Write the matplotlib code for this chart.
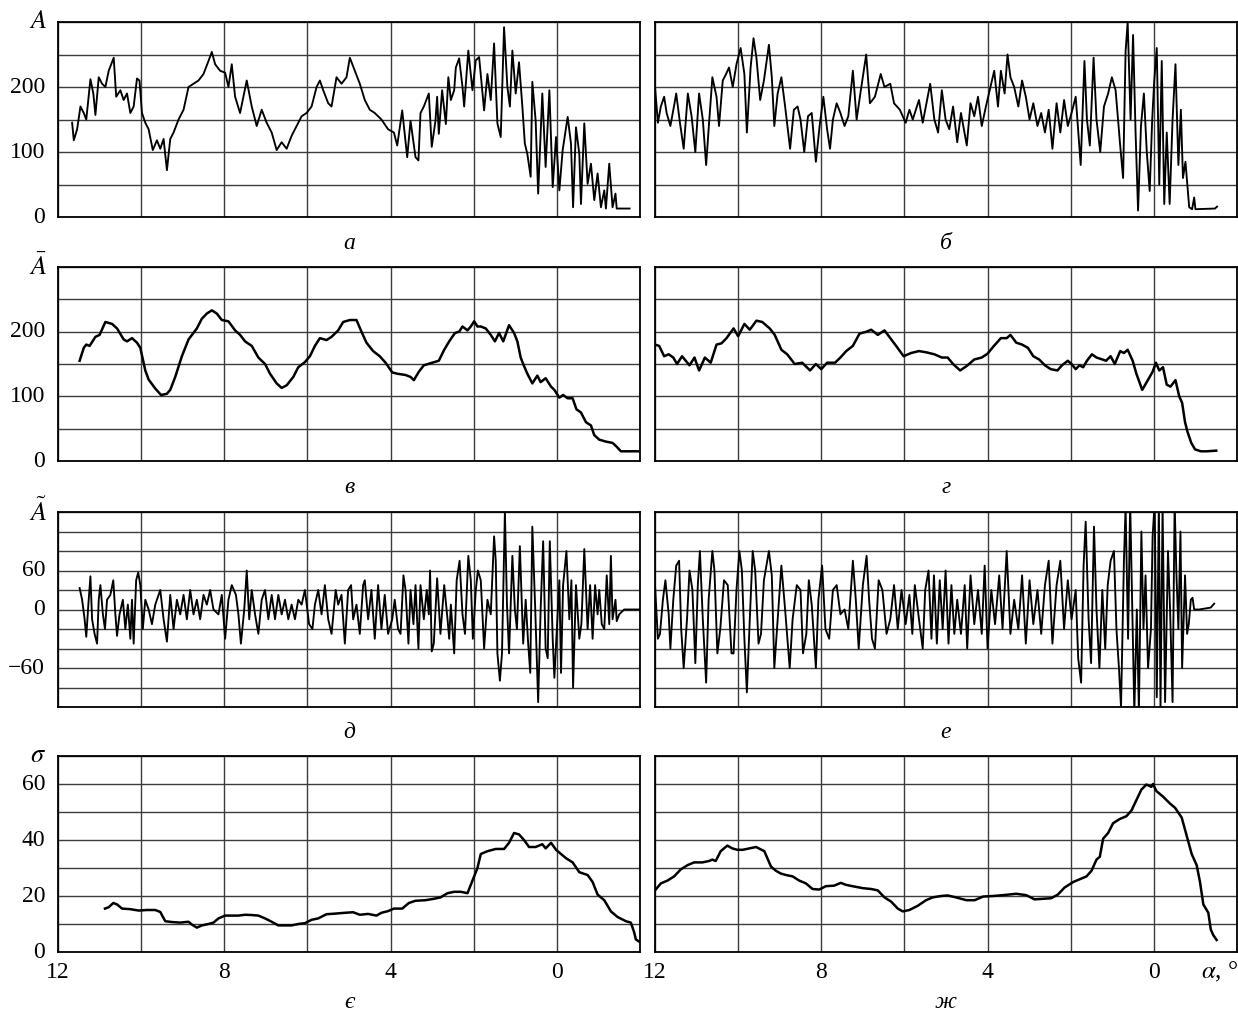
import matplotlib
matplotlib.use('Agg')
import matplotlib.pyplot as plt
import numpy as np

plt.rcParams['font.family'] = ['Liberation Serif', 'DejaVu Serif']
plt.rcParams['mathtext.fontset'] = 'stix'

# ---------------- data (x in degrees) ----------------
# panel a : A (raw signal, left)
a_x = [11.66,11.62,11.54,11.46,11.38,11.32,11.22,11.15,11.1,11.02,10.94,10.86,10.78,10.66,10.6,10.5,10.42,10.34,10.26,10.18,
       10.1,10.04,9.98,9.9,9.82,9.72,9.62,9.54,9.46,9.38,9.3,9.22,9.1,8.98,8.86,8.74,8.62,8.5,8.38,8.3,
       8.22,8.1,7.98,7.9,7.82,7.74,7.62,7.46,7.34,7.22,7.1,6.98,6.86,6.74,6.62,6.5,6.38,6.26,6.14,6.02,
       5.9,5.78,5.7,5.62,5.5,5.42,5.3,5.18,5.06,4.98,4.86,4.74,4.62,4.5,4.38,4.22,4.06,3.92,3.84,3.72,
       3.6,3.52,3.4,3.33,3.28,3.2,3.08,3.01,2.92,2.88,2.84,2.76,2.67,2.61,2.55,2.47,2.43,2.35,2.27,2.23,
       2.13,2.03,1.95,1.87,1.75,1.67,1.59,1.51,1.43,1.35,1.27,1.19,1.13,1.07,0.99,0.91,0.83,0.77,0.71,0.63,
       0.59,0.51,0.45,0.35,0.27,0.18,0.1,0.02,-0.06,-0.14,-0.26,-0.34,-0.39,-0.46,-0.54,-0.58,-0.66,-0.74,-0.82,-0.9,
       -0.98,-1.06,-1.14,-1.18,-1.26,-1.34,-1.41,-1.44,-1.75]
a_y = [145,118,135,170,160,150,212,190,157,215,205,200,225,245,185,195,180,190,160,170,
       213,210,160,145,135,103,118,105,120,72,120,130,150,165,200,205,210,220,240,254,
       235,225,222,200,235,185,160,210,170,140,165,145,130,103,115,105,125,140,155,160,
       170,200,210,195,175,170,215,205,215,245,225,205,180,165,160,150,135,130,110,164,
       92,148,92,87,160,170,190,108,148,185,128,195,143,215,180,195,230,244,200,170,
       256,195,241,246,164,220,180,267,144,123,292,200,170,256,190,238,170,113,97,62,
       208,148,36,190,77,195,46,123,41,103,154,113,15,138,97,20,144,51,82,26,
       67,15,41,13,82,15,36,13,13]

# panel b : A (raw signal, right)
b_x = [12.0,11.93,11.86,11.78,11.72,11.63,11.53,11.49,11.4,11.31,11.21,11.12,11.03,10.94,10.85,10.77,10.71,10.62,10.52,10.46,
       10.37,10.29,10.22,10.13,10.04,9.94,9.85,9.79,9.7,9.63,9.56,9.47,9.38,9.26,9.19,9.13,9.05,8.96,8.87,8.75,
       8.66,8.57,8.5,8.41,8.32,8.23,8.13,8.04,7.95,7.86,7.79,7.72,7.63,7.54,7.44,7.35,7.24,7.15,7.06,6.92,
       6.83,6.71,6.57,6.48,6.34,6.25,6.11,5.97,5.88,5.8,5.65,5.56,5.47,5.38,5.28,5.19,5.1,5.01,4.92,4.83,
       4.73,4.64,4.5,4.41,4.32,4.23,4.14,4.04,3.95,3.84,3.75,3.68,3.59,3.52,3.45,3.36,3.26,3.17,3.08,2.99,
       2.9,2.8,2.71,2.62,2.53,2.44,2.34,2.25,2.16,2.07,1.98,1.88,1.76,1.67,1.61,1.54,1.45,1.38,1.29,1.2,
       1.1,1.01,0.92,0.81,0.74,0.68,0.63,0.56,0.5,0.44,0.38,0.31,0.24,0.17,0.1,0.04,-0.01,-0.07,-0.13,-0.19,
       -0.25,-0.31,-0.38,-0.45,-0.52,-0.59,-0.65,-0.7,-0.76,-0.81,-0.85,-0.92,-0.97,-1.0,-1.47,-1.52]
b_y = [200,145,170,185,160,140,175,190,145,105,190,155,100,190,150,80,135,215,185,140,
       210,220,230,200,235,260,220,130,230,275,245,180,210,265,215,140,190,215,170,105,
       165,170,150,100,155,160,85,140,185,135,105,150,175,160,140,155,225,150,190,250,
       175,185,220,200,205,175,165,145,165,150,180,145,175,205,150,130,195,150,135,170,
       115,160,110,175,155,185,140,170,195,225,170,225,190,250,215,200,170,210,185,150,
       175,140,160,130,165,105,175,130,180,140,160,185,80,240,150,110,245,150,100,170,
       190,215,195,110,60,255,300,150,280,130,10,140,190,100,40,150,210,260,50,240,
       20,130,20,150,235,80,165,60,85,45,15,12,30,12,13,16]

# panel v : mean A (left)
v_x = [11.48,11.38,11.32,11.24,11.1,11.0,10.86,10.7,10.58,10.42,10.34,10.22,10.1,10.02,9.9,9.82,9.66,9.52,9.38,9.3,
       9.18,9.02,8.86,8.66,8.54,8.42,8.3,8.18,8.06,7.9,7.74,7.62,7.5,7.34,7.18,7.02,6.9,6.74,6.62,6.5,
       6.34,6.22,6.06,5.94,5.82,5.7,5.54,5.42,5.26,5.14,4.98,4.82,4.7,4.58,4.42,4.26,4.12,3.96,3.84,3.64,
       3.52,3.44,3.32,3.2,3.0,2.84,2.71,2.59,2.45,2.35,2.27,2.15,2.07,1.99,1.91,1.83,1.71,1.59,1.49,1.39,
       1.29,1.15,1.03,0.95,0.87,0.81,0.71,0.59,0.47,0.39,0.27,0.14,0.06,-0.06,-0.15,-0.26,-0.38,-0.47,-0.58,-0.7,
       -0.82,-0.9,-1.02,-1.18,-1.34,-1.44,-1.54,-1.98]
v_y = [155,175,180,178,192,195,215,212,205,188,185,190,183,175,140,126,112,102,104,110,
       130,162,188,205,220,228,233,228,218,216,202,195,185,178,160,150,135,120,113,117,
       130,145,153,162,178,190,187,192,202,215,218,218,200,183,170,162,152,137,135,133,
       130,125,138,148,152,155,172,185,198,200,208,202,208,216,208,208,205,195,185,198,
       185,210,198,185,160,150,135,120,132,122,128,115,110,98,102,97,97,80,75,60,
       55,40,33,30,28,22,15,15]

# panel g : mean A (right)
g_x = [12.0,11.9,11.78,11.67,11.56,11.47,11.35,11.26,11.17,11.05,10.94,10.8,10.66,10.52,10.4,10.28,10.11,10.0,9.85,9.72,
       9.56,9.42,9.24,9.12,8.96,8.82,8.64,8.46,8.27,8.13,8.0,7.86,7.67,7.54,7.4,7.24,7.08,6.91,6.8,6.64,
       6.48,6.34,6.2,6.02,5.84,5.65,5.47,5.28,5.1,4.96,4.83,4.66,4.5,4.32,4.14,4.0,3.86,3.68,3.54,3.45,
       3.31,3.17,3.03,2.9,2.76,2.62,2.48,2.32,2.21,2.07,1.98,1.88,1.79,1.7,1.61,1.49,1.38,1.24,1.15,1.04,
       0.94,0.81,0.72,0.63,0.51,0.42,0.28,0.19,0.1,0.03,-0.05,-0.13,-0.22,-0.31,-0.4,-0.52,-0.61,-0.68,-0.75,-0.81,
       -0.9,-0.99,-1.13,-1.27,-1.5]
g_y = [180,178,162,165,160,150,162,155,148,160,140,160,152,180,182,190,205,193,212,203,
       217,215,205,195,172,165,150,152,140,150,142,152,152,160,170,178,197,200,203,195,
       202,190,178,162,167,170,168,165,160,160,150,140,147,157,160,166,177,190,190,195,
       183,180,175,162,157,148,142,140,148,155,150,142,148,145,155,165,160,157,155,162,
       150,170,167,172,155,135,110,120,130,138,152,140,145,118,115,125,100,90,60,45,
       28,18,15,15,16]

# panel d : fluctuation (left)
d_x = [11.48,11.42,11.36,11.32,11.27,11.22,11.18,11.12,11.06,11.02,10.98,10.92,10.87,10.82,10.74,10.67,10.62,10.58,10.52,10.44,
       10.38,10.32,10.26,10.22,10.18,10.12,10.07,10.02,9.96,9.9,9.82,9.74,9.66,9.54,9.46,9.38,9.3,9.22,9.14,9.06,
       8.98,8.9,8.82,8.74,8.66,8.58,8.5,8.42,8.34,8.26,8.14,8.06,7.98,7.9,7.82,7.72,7.66,7.6,7.52,7.46,
       7.4,7.34,7.26,7.18,7.1,7.02,6.94,6.86,6.78,6.7,6.62,6.54,6.46,6.38,6.3,6.22,6.14,6.06,5.96,5.88,
       5.82,5.74,5.66,5.58,5.5,5.42,5.32,5.26,5.18,5.1,5.02,4.95,4.9,4.82,4.74,4.66,4.62,4.54,4.46,4.38,
       4.3,4.22,4.14,4.06,3.96,3.9,3.82,3.76,3.69,3.64,3.57,3.52,3.45,3.4,3.33,3.28,3.2,3.13,3.08,3.05,
       3.01,2.96,2.88,2.8,2.71,2.63,2.59,2.55,2.47,2.41,2.34,2.27,2.21,2.13,2.07,2.02,1.95,1.9,1.83,1.75,
       1.67,1.59,1.51,1.47,1.43,1.37,1.32,1.25,1.2,1.15,1.07,1.01,0.96,0.89,0.81,0.75,0.69,0.64,0.59,0.52,
       0.45,0.39,0.33,0.27,0.22,0.17,0.1,0.06,0.0,-0.06,-0.1,-0.15,-0.23,-0.3,-0.35,-0.39,-0.46,-0.54,-0.59,-0.66,
       -0.74,-0.8,-0.86,-0.92,-0.98,-1.02,-1.08,-1.14,-1.2,-1.26,-1.3,-1.34,-1.41,-1.44,-1.5,-1.62,-2.0]
d_y = [22,10,-10,-28,5,34,-10,-25,-35,10,25,-5,-20,10,15,30,-5,-27,-5,10,
       -20,5,-30,10,-35,30,38,25,-20,10,0,-15,5,20,-10,-33,15,-20,10,-5,
       15,-10,20,-5,10,-10,15,5,20,0,-5,15,-30,10,25,15,-5,-35,0,40,
       -10,20,-5,-25,10,20,-10,15,-10,15,-5,10,-10,5,-10,10,5,20,-15,-20,
       5,20,-5,25,-10,-25,20,5,15,-35,20,25,-10,5,-25,25,30,-10,20,-30,
       25,-20,15,-25,-10,10,-20,-25,35,20,-35,20,-15,25,-40,25,-10,20,-5,40,
       -43,-35,32,-25,25,-10,-30,5,-45,30,50,-5,-25,55,30,-30,20,40,30,-40,
       10,-5,75,50,-45,-73,-45,100,5,-45,55,0,-20,65,-35,10,-35,-65,85,0,
       -95,0,70,-40,-50,70,-30,-70,-20,30,-65,25,60,-10,30,-80,25,-30,-15,62,
       -20,25,-30,25,-5,20,-15,-20,35,-15,55,-10,10,-12,-5,0,0]

# panel e : fluctuation (right)
e_x = [12.0,11.93,11.88,11.81,11.75,11.67,11.63,11.56,11.49,11.42,11.37,11.31,11.23,11.17,11.1,11.03,10.97,10.92,10.85,10.77,
       10.71,10.62,10.57,10.5,10.43,10.34,10.25,10.16,10.11,10.04,9.97,9.91,9.85,9.79,9.72,9.65,9.59,9.51,9.45,9.38,
       9.26,9.19,9.13,9.05,8.96,8.87,8.76,8.69,8.59,8.5,8.44,8.36,8.3,8.23,8.13,8.07,7.98,7.9,7.81,7.72,
       7.63,7.54,7.44,7.35,7.24,7.17,7.1,7.0,6.91,6.85,6.78,6.71,6.62,6.53,6.43,6.34,6.25,6.16,6.07,5.97,
       5.88,5.81,5.75,5.65,5.56,5.5,5.42,5.35,5.29,5.22,5.15,5.08,5.01,4.94,4.87,4.8,4.73,4.64,4.55,4.49,
       4.41,4.32,4.23,4.14,4.07,4.0,3.91,3.82,3.72,3.64,3.54,3.45,3.36,3.26,3.17,3.08,2.99,2.9,2.8,2.71,
       2.62,2.53,2.44,2.34,2.25,2.16,2.07,1.98,1.88,1.82,1.75,1.69,1.64,1.57,1.51,1.44,1.38,1.31,1.24,1.17,
       1.11,1.04,0.96,0.9,0.84,0.79,0.72,0.68,0.62,0.57,0.51,0.47,0.41,0.36,0.3,0.25,0.2,0.14,0.07,0.03,
       -0.02,-0.07,-0.12,-0.16,-0.21,-0.27,-0.34,-0.39,-0.45,-0.5,-0.54,-0.59,-0.64,-0.68,-0.73,-0.75,-0.8,-0.84,-0.89,-0.93,
       -0.97,-1.09,-1.37,-1.43,-1.45]
e_y = [25,-30,-25,10,30,-5,-40,10,45,50,-20,-60,-10,40,20,-55,25,60,-10,-75,
       10,60,40,-45,-20,30,25,-45,-45,20,60,40,-30,-85,-10,60,40,-35,-25,30,
       60,35,-60,-10,45,0,-60,-10,25,20,-45,-25,30,5,-60,10,45,-20,-30,20,
       25,-5,0,-20,50,10,-40,25,55,10,-30,-40,30,20,-25,-10,25,-20,20,-15,
       15,-25,25,-10,-40,20,40,-30,35,-35,30,-20,40,-35,25,-25,10,-25,25,-40,
       35,-15,20,-25,45,-40,20,-15,35,-20,60,-25,10,-20,35,-35,30,-15,20,-25,
       25,50,-35,25,50,-20,30,-10,20,-50,-75,45,90,-10,-55,85,0,-60,20,-40,
       25,50,60,-20,-60,-100,50,105,-30,110,-20,-105,0,-105,80,-20,35,-60,-20,75,
       110,-90,110,-100,105,-95,60,0,-95,110,40,-20,80,-60,10,35,-25,-15,10,12,
       0,0,2,5,6]

# panel ye : sigma (left)
s1_x = [10.87,10.78,10.67,10.58,10.46,10.26,10.06,9.86,9.66,9.54,9.42,9.26,9.06,8.86,8.78,8.66,8.54,8.38,8.26,8.14,
        7.98,7.82,7.66,7.5,7.34,7.18,7.02,6.86,6.7,6.54,6.38,6.22,6.06,5.9,5.74,5.54,5.34,5.1,4.9,4.74,
        4.54,4.34,4.22,4.06,3.92,3.72,3.56,3.4,3.16,2.96,2.8,2.63,2.47,2.31,2.15,2.07,1.99,1.91,1.83,1.67,
        1.47,1.27,1.15,1.03,0.91,0.79,0.67,0.51,0.35,0.27,0.14,0.02,-0.1,-0.22,-0.38,-0.54,-0.74,-0.86,-0.98,-1.14,
        -1.3,-1.46,-1.66,-1.78,-1.86,-1.9,-2.0]
s1_y = [15.5,16,17.5,17,15.5,15.3,14.8,15,15,14.3,11,10.7,10.5,10.8,9.8,8.7,9.5,10,10.5,12,
        13,13,13,13.3,13.2,13,12,10.8,9.5,9.5,9.5,10,10.3,11.5,12,13.5,13.7,14,14.2,13.3,
        13.6,13,14,14.6,15.5,15.5,17.5,18.3,18.5,19,19.5,21,21.5,21.5,21,24,27,30,35,36,
        36.8,36.8,39,42.5,42,40,37.5,37.5,38.5,37,39,36.5,35,33.5,32,28.5,27.5,25,20.5,18.5,
        14.5,12.5,11,10.5,7,4.5,3.5]

# panel zh : sigma (right)
s2_x = [12.0,11.86,11.7,11.54,11.38,11.22,11.06,10.86,10.7,10.62,10.54,10.42,10.26,10.14,10.02,9.89,9.73,9.57,9.37,9.21,
        9.09,8.97,8.85,8.69,8.53,8.37,8.21,8.05,7.89,7.69,7.53,7.41,7.25,7.0,6.8,6.64,6.48,6.32,6.16,6.04,
        5.88,5.68,5.48,5.32,5.12,4.96,4.76,4.51,4.31,4.11,3.87,3.63,3.31,3.07,2.87,2.67,2.47,2.31,2.15,1.94,
        1.78,1.62,1.5,1.38,1.3,1.22,1.1,0.98,0.82,0.66,0.54,0.46,0.3,0.18,0.06,0.02,-0.06,-0.22,-0.39,-0.51,
        -0.67,-0.79,-0.91,-1.03,-1.11,-1.19,-1.31,-1.37,-1.43,-1.51]
s2_y = [22,24.5,25.5,27,29.5,31,32,32,32.5,33,32.5,36,38,37,36.5,36.5,37,37.5,36,30.5,
        29,28,27.5,27,25.5,24.5,22.5,22.3,23.5,23.7,24.7,24,23.5,22.8,22.5,22,19.5,18,15.5,14.5,
        15,16.5,18.5,19.5,20,20.2,19.5,18.5,18.5,19.8,20,20.3,20.8,20.3,18.8,19,19.2,20.5,23,25,
        26,27,29,33,34,40.5,42.5,46,47.5,48.5,50.5,53,58,59.8,59,60,57.5,55.5,53,51.5,
        48,41.5,35,31,25,17,14,8,6,4.3]

panel_letters = ['а', 'б', 'в', 'г', 'д', 'е', 'є', 'ж']
row_titles = [r'$\mathit{A}$', r'$\bar{A}$', r'$\tilde{A}$', r'$\sigma$']
x_tick_pos = [12, 10, 8, 6, 4, 2, 0, -2]
x_tick_lab = ['12', '', '8', '', '4', '', '0', '']

# ---------------- figure ----------------
W, H = 1238, 1016
fig = plt.figure(figsize=(W / 100, H / 100), dpi=100)

rows_px = [(22, 217), (267, 461), (512, 707), (756, 952)]
cols_px = [(58, 640), (655, 1237)]

series = [[(a_x, a_y), (b_x, b_y)],
          [(v_x, v_y), (g_x, g_y)],
          [(d_x, d_y), (e_x, e_y)],
          [(s1_x, s1_y), (s2_x, s2_y)]]
lws = [1.35, 1.8, 1.35, 1.8]

ylims = [(0, 300), (0, 300), (-100, 100), (0, 70)]
ygrid = [np.arange(0, 301, 50), np.arange(0, 301, 50), np.arange(-100, 101, 20), np.arange(0, 71, 10)]
ylab_pos = [[0, 100, 200], [0, 100, 200], [40, 0, -60], [0, 20, 40, 60]]
ylab_txt = [['0', '100', '200'], ['0', '100', '200'], ['60', '0', '\u221260'], ['0', '20', '40', '60']]

grid_col = '#3c3c3c'
k = 0
for r, (t, b) in enumerate(rows_px):
    for c, (l, rr) in enumerate(cols_px):
        ax = fig.add_axes([l / W, 1 - b / H, (rr - l) / W, (b - t) / H])
        xs, ys = series[r][c]
        ax.plot(xs, ys, color='black', lw=lws[r], zorder=3)
        ax.set_xlim(12, -2)
        ax.set_ylim(*ylims[r])
        ax.set_xticks(x_tick_pos)
        if r == 3:
            ax.set_xticklabels(x_tick_lab)
        else:
            ax.set_xticklabels([''] * len(x_tick_pos))
        ax.set_yticks(ygrid[r])
        ax.set_yticklabels([''] * len(ygrid[r]))
        ax.grid(True, color=grid_col, lw=1.0, zorder=0)
        ax.set_axisbelow(True)
        ax.tick_params(length=0, labelsize=17, pad=7)
        for sp in ax.spines.values():
            sp.set_linewidth(1.3)
            sp.set_color('black')
        if c == 0:
            for p, s in zip(ylab_pos[r], ylab_txt[r]):
                ax.text(-0.022, p, s, transform=ax.get_yaxis_transform(), ha='right', va='center', fontsize=17)
            ax.text(-0.034, 1.0, row_titles[r], transform=ax.transAxes, ha='center', va='center', fontsize=19)
        off = 26 if r < 3 else 51
        ax.text(0.5, -off / (b - t), panel_letters[k], transform=ax.transAxes, ha='center', va='center',
                fontsize=17, style='italic')
        if r == 3 and c == 1:
            ax.text(-1.57, -0.1, r'$\alpha$, °', transform=ax.get_xaxis_transform(), ha='center', va='center',
                    fontsize=18)
        k += 1

fig.savefig('out.png', dpi=100)
